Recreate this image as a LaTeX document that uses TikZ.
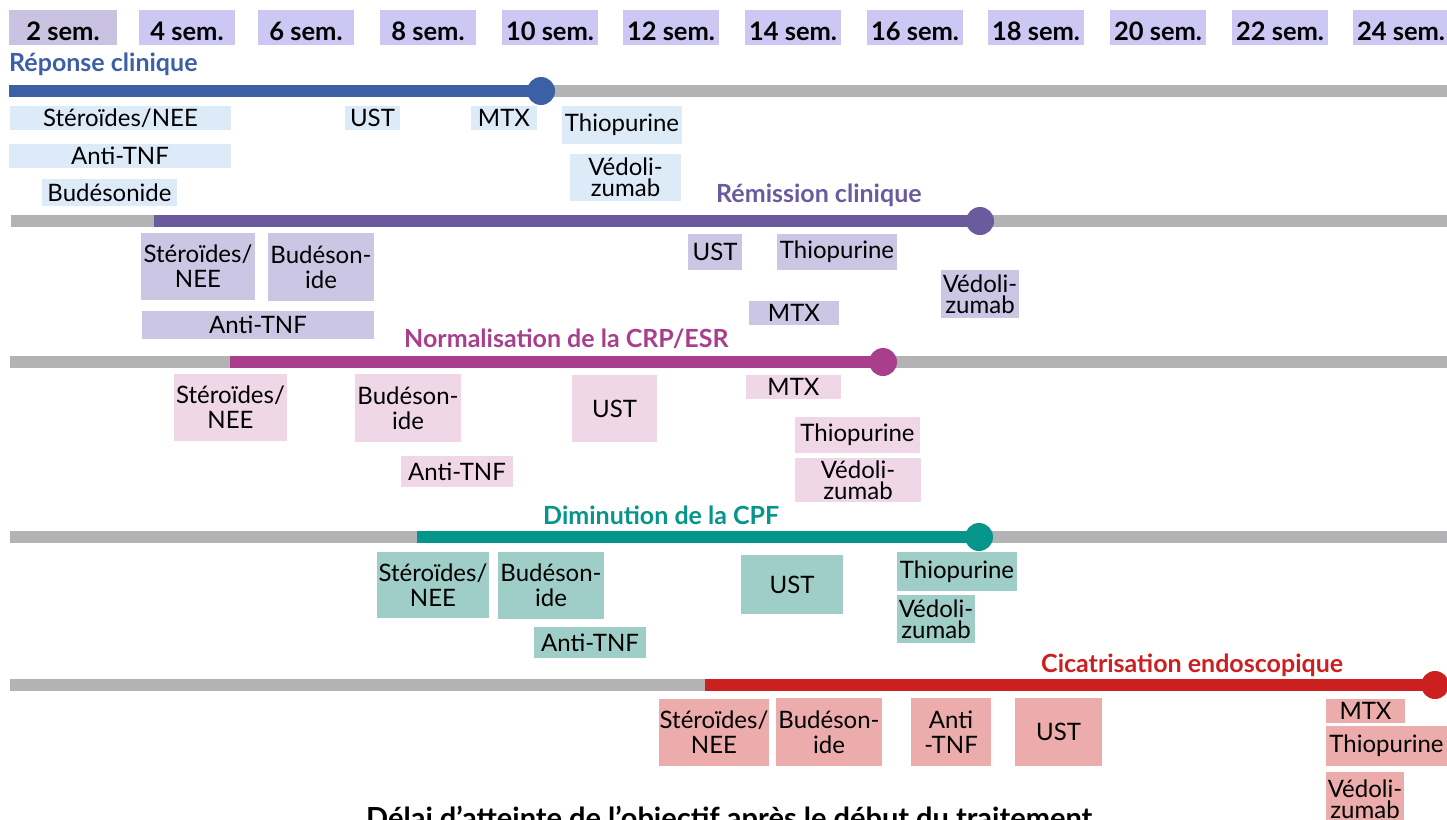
\documentclass[tikz,border=0pt]{standalone}
\usepackage{fontspec}
\setmainfont{Lato}
\definecolor{hdr}{HTML}{CCC8F3}
\definecolor{hdrA}{HTML}{C9C3E1}
\definecolor{gry}{HTML}{B3B3B5}
\definecolor{cA}{HTML}{3B60A6}\definecolor{fA}{HTML}{DDEBF8}
\definecolor{cB}{HTML}{6A5B9F}\definecolor{fB}{HTML}{CBC6E3}
\definecolor{cC}{HTML}{A93F8C}\definecolor{fC}{HTML}{EFD7E8}
\definecolor{cD}{HTML}{06958A}\definecolor{fD}{HTML}{9FCDC8}
\definecolor{cE}{HTML}{CC1F1F}\definecolor{fE}{HTML}{ECACAC}
\tikzset{
  bx/.style={inner sep=0pt, outer sep=0pt, align=center, text=black,
    font=\fontsize{24}{25}\selectfont},
  tight/.style={font=\fontsize{24}{21}\selectfont},
  hbox/.style={inner sep=0pt, outer sep=0pt, text=black, minimum width=96pt,
    minimum height=35pt, text height=25pt, text depth=0pt,
    font=\bfseries\fontsize{25.5}{25}\selectfont},
  hd/.style={inner sep=0pt, anchor=base west, font=\bfseries\fontsize{25}{25}\selectfont},
  bar/.style={line width=12pt},
  dot/.style={circle, minimum size=28pt, inner sep=0pt, draw=none},
}
\newcommand\bx[8][]{\node[bx,#1,fill=#7,minimum width={(#5-#3)*1pt},minimum height={(#6-#4)*1pt}] (#2) at ({(#3+#5)/2},{(#4+#6)/2}) {#8};}
\begin{document}
\begin{tikzpicture}[x=1pt,y=-1pt]
\useasboundingbox (0,0) rectangle (1447,819);
% header
\node[hbox,fill=hdrA,minimum width=108pt] (h2) at (63,27.5) {2 sem.};
\foreach \n/\xl in {4/139,6/258,8/380,10/502,12/623,14/745,16/867,18/988,20/1110,22/1232,24/1353}
  \node[hbox,fill=hdr] (h\n) at (\xl+48,27.5) {\n{} sem.};

% row 1
\node[hd,text=cA] (tA) at (9,71) {Réponse clinique};
\coordinate (gA0) at (10,91); \coordinate (gA1) at (1447,91);
\draw[bar,gry] (gA0) -- (gA1);
\node[dot,fill=cA] (dA) at (541,91) {};
\coordinate (sA) at (9,91);
\draw[bar,cA] (sA) -- (dA.center);
\bx{r1a}{10}{106}{231}{130}{fA}{Stéroïdes/NEE}
\bx{r1b}{9}{144}{231}{168}{fA}{Anti-TNF}
\bx{r1c}{42}{179}{177}{206}{fA}{Budésonide}
\bx{r1d}{345}{106}{400}{130}{fA}{UST}
\bx{r1e}{471}{106}{537}{130}{fA}{MTX}
\bx{r1f}{562}{106}{682}{144}{fA}{Thiopurine}
\bx[tight]{r1g}{570}{154}{681}{201}{fA}{Védoli-\\zumab}

% row 2
\node[hd,text=cB] (tB) at (716,202) {Rémission clinique};
\coordinate (gB0) at (11,221); \coordinate (gB1) at (1447,221);
\draw[bar,gry] (gB0) -- (gB1);
\node[dot,fill=cB] (dB) at (980,221) {};
\coordinate (sB) at (154,221);
\draw[bar,cB] (sB) -- (dB.center);
\bx{r2a}{141}{233}{255}{300}{fB}{Stéroïdes/\\NEE}
\bx{r2b}{268}{233}{374}{301}{fB}{Budéson-\\ide}
\bx{r2c}{142}{311}{374}{339}{fB}{Anti-TNF}
\bx{r2d}{688}{234}{742}{270}{fB}{UST}
\bx{r2e}{777}{234}{897}{270}{fB}{Thiopurine}
\bx{r2f}{749}{301}{839}{325}{fB}{MTX}
\bx[tight]{r2g}{941}{270}{1019}{318}{fB}{Védoli-\\zumab}

% row 3
\node[hd,text=cC] (tC) at (404,347) {Normalisation de la CRP/ESR};
\coordinate (gC0) at (10,362); \coordinate (gC1) at (1447,362);
\draw[bar,gry] (gC0) -- (gC1);
\node[dot,fill=cC] (dC) at (883,362) {};
\coordinate (sC) at (230,362);
\draw[bar,cC] (sC) -- (dC.center);
\bx{r3a}{174}{374}{287}{441}{fC}{Stéroïdes/\\NEE}
\bx{r3b}{355}{374}{461}{442}{fC}{Budéson-\\ide}
\bx{r3c}{401}{456}{513}{487}{fC}{Anti-TNF}
\bx{r3d}{572}{375}{657}{442}{fC}{UST}
\bx{r3e}{746}{375}{841}{399}{fC}{MTX}
\bx{r3f}{795}{417}{920}{453}{fC}{Thiopurine}
\bx[tight]{r3g}{795}{458}{921}{502}{fC}{Védoli-\\zumab}

% row 4
\node[hd,text=cD] (tD) at (543,524) {Diminution de la CPF};
\coordinate (gD0) at (10,537); \coordinate (gD1) at (1447,537);
\draw[bar,gry] (gD0) -- (gD1);
\node[dot,fill=cD] (dD) at (979,537) {};
\coordinate (sD) at (417,537);
\draw[bar,cD] (sD) -- (dD.center);
\bx{r4a}{377}{552}{489}{618}{fD}{Stéroïdes/\\NEE}
\bx{r4b}{498}{552}{604}{619}{fD}{Budéson-\\ide}
\bx{r4c}{534}{627}{646}{658}{fD}{Anti-TNF}
\bx{r4d}{741}{555}{843}{614}{fD}{UST}
\bx{r4e}{897}{552}{1017}{591}{fD}{Thiopurine}
\bx[tight]{r4f}{897}{595}{975}{643}{fD}{Védoli-\\zumab}

% row 5
\node[hd,text=cE] (tE) at (1041,672) {Cicatrisation endoscopique};
\coordinate (gE0) at (10,685); \coordinate (gE1) at (1447,685);
\draw[bar,gry] (gE0) -- (gE1);
\node[dot,fill=cE] (dE) at (1435,685) {};
\coordinate (sE) at (705,685);
\draw[bar,cE] (sE) -- (dE.center);
\bx{r5a}{659}{699}{769}{766}{fE}{Stéroïdes/\\NEE}
\bx{r5b}{776}{698}{882}{766}{fE}{Budéson-\\ide}
\bx{r5c}{911}{698}{991}{766}{fE}{Anti\\-TNF}
\bx{r5d}{1015}{698}{1102}{766}{fE}{UST}
\bx{r5e}{1326}{699}{1405}{723}{fE}{MTX}
\bx{r5f}{1326}{726}{1447}{766}{fE}{Thiopurine}
\bx[tight]{r5g}{1326}{772}{1404}{826}{fE}{Védoli-\\zumab}

% bottom title
\node[hd,text=black,font=\bfseries\fontsize{29}{29}\selectfont] (title) at (366,828) {Délai d’atteinte de l’objectif après le début du traitement};
\end{tikzpicture}
\end{document}
